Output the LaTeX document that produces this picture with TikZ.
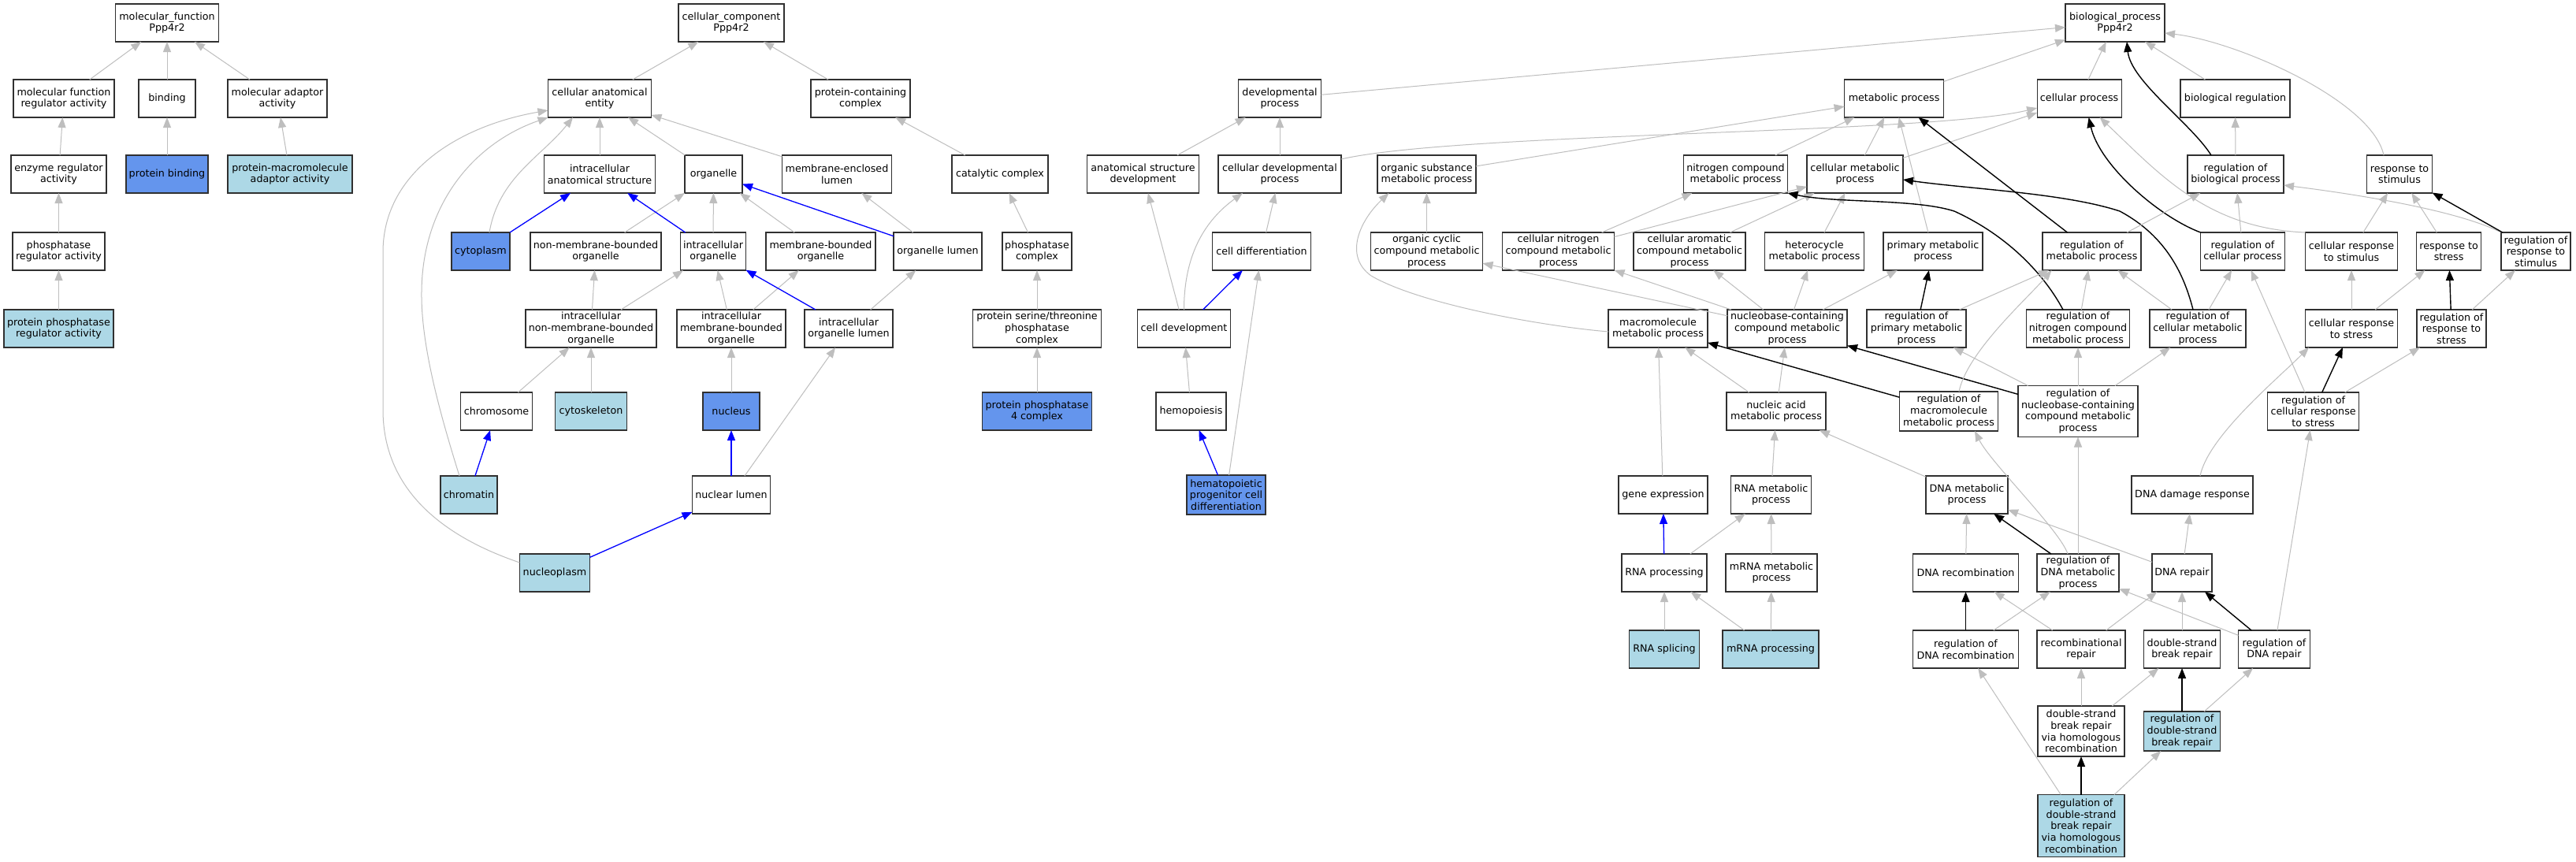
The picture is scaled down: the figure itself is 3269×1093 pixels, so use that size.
\documentclass[tikz,border=0pt]{standalone}
\usepackage{fontspec}
\setmainfont{DejaVu Sans}
\usetikzlibrary{arrows.meta}
\definecolor{cfblue}{HTML}{6495ED}
\definecolor{ltblue}{HTML}{ADD8E6}
\definecolor{edgegray}{HTML}{BEBEBE}
\definecolor{boxline}{HTML}{303030}
\tikzset{
  box/.style={draw=boxline, line width=1.2pt, fill=white, inner sep=0pt, outer sep=0pt, align=center,
    minimum height=48pt, font=\fontsize{12.7}{14.7}\selectfont},
  hit/.style={box, fill=cfblue},
  lit/.style={box, fill=ltblue},
  nw/.style={minimum width=#1pt},
  nh/.style={minimum height=#1pt},
  tipg/.style={-{Triangle[length=13pt,width=10pt]}},
  g/.style={draw=edgegray, line width=1pt, tipg},
  bk/.style={draw=black, line width=1.4pt, tipg},
  bl/.style={draw=blue, line width=1.3pt, tipg}
}
\begin{document}
\begin{tikzpicture}[x=1pt,y=-1pt]
\fill[white] (0,0) rectangle (3269,1093);
\useasboundingbox (0,0) rectangle (3269,1093);
% ---------------- molecular function
\node[box,nw=131] (mf) at (212,29) {molecular\_function\\Ppp4r2};
\node[box,nw=128] (mfra) at (81,125) {molecular function\\regulator activity};
\node[box,nw=72] (bind) at (212,125) {binding};
\node[box,nw=126] (mad) at (352,125) {molecular adaptor\\activity};
\node[box,nw=121] (era) at (74.5,221) {enzyme regulator\\activity};
\node[hit,nw=104] (pb) at (212,221) {protein binding};
\node[lit,nw=158] (pmaa) at (368,221) {protein-macromolecule\\adaptor activity};
\node[box,nw=117] (pra) at (74.5,319) {phosphatase\\regulator activity};
\node[lit,nw=139] (ppra) at (74.5,417) {protein phosphatase\\regulator activity};
% ---------------- cellular component
\node[box,nw=134] (cc) at (928,29) {cellular\_component\\Ppp4r2};
\node[box,nw=131] (cae) at (761,125) {cellular anatomical\\entity};
\node[box,nw=126] (pcc) at (1092,125) {protein-containing\\complex};
\node[box,nw=141] (ias) at (761,221) {intracellular\\anatomical structure};
\node[box,nw=73] (org) at (905.5,221) {organelle};
\node[box,nw=139] (mel) at (1062,221) {membrane-enclosed\\lumen};
\node[box,nw=122] (catc) at (1269,221) {catalytic complex};
\node[hit,nw=74] (cyto) at (610,319) {cytoplasm};
\node[box,nw=166] (nmbo) at (756,319) {non-membrane-bounded\\organelle};
\node[box,nw=83] (io) at (905,319) {intracellular\\organelle};
\node[box,nw=139] (mbo) at (1041.5,319) {membrane-bounded\\organelle};
\node[box,nw=112] (ol) at (1190,319) {organelle lumen};
\node[box,nw=88] (phc) at (1316,319) {phosphatase\\complex};
\node[box,nw=166] (inmbo) at (750,417) {intracellular\\non-membrane-bounded\\organelle};
\node[box,nw=138] (imbo) at (928,417) {intracellular\\membrane-bounded\\organelle};
\node[box,nw=112] (iol) at (1077,417) {intracellular\\organelle lumen};
\node[box,nw=163] (pstpc) at (1316,417) {protein serine/threonine\\phosphatase\\complex};
\node[box,nw=91] (chrom) at (630,522) {chromosome};
\node[lit,nw=91] (cytosk) at (750,522) {cytoskeleton};
\node[hit,nw=72] (nuc) at (928,522) {nucleus};
\node[hit,nw=139] (pp4c) at (1316,522) {protein phosphatase\\4 complex};
\node[lit,nw=72] (chromatin) at (595,628) {chromatin};
\node[box,nw=99] (nl) at (928,628) {nuclear lumen};
\node[lit,nw=89] (nucpl) at (704,727) {nucleoplasm};
% ---------------- biological process
\node[box,nw=126] (bp) at (2684,29) {biological\_process\\Ppp4r2};
\node[box,nw=105] (devp) at (1624,125) {developmental\\process};
\node[box,nw=126] (mp) at (2403.6,125) {metabolic process};
\node[box,nw=107] (cp) at (2638.6,125) {cellular process};
\node[box,nw=139] (breg) at (2836.5,125) {biological regulation};
\node[box,nw=142] (asd) at (1450.5,221) {anatomical structure\\development};
\node[box,nw=156] (cdp) at (1624,221) {cellular developmental\\process};
\node[box,nw=125] (osmp) at (1810.5,221) {organic substance\\metabolic process};
\node[box,nw=132] (ncmp) at (2202.5,221) {nitrogen compound\\metabolic process};
\node[box,nw=122] (cmp) at (2354,221) {cellular metabolic\\process};
\node[box,nw=122] (rbp) at (2837,221) {regulation of\\biological process};
\node[box,nw=83] (rts) at (3045,221) {response to\\stimulus};
\node[box,nw=125] (celldiff) at (1601,319) {cell differentiation};
\node[box,nw=142] (occmp) at (1810.5,319) {organic cyclic\\compound metabolic\\process};
\node[box,nw=142] (cncmp) at (1977.5,319) {cellular nitrogen\\compound metabolic\\process};
\node[box,nw=142] (cacmp) at (2144,319) {cellular aromatic\\compound metabolic\\process};
\node[box,nw=126] (hmp) at (2302.5,319) {heterocycle\\metabolic process};
\node[box,nw=126] (pmp) at (2453,319) {primary metabolic\\process};
\node[box,nw=125] (rmp) at (2654.5,319) {regulation of\\metabolic process};
\node[box,nw=107] (rcp) at (2846,319) {regulation of\\cellular process};
\node[box,nw=117] (crsti) at (2984,319) {cellular response\\to stimulus};
\node[box,nw=82] (rstress) at (3107.6,319) {response to\\stress};
\node[box,nw=88] (rrsti) at (3218,319) {regulation of\\response to\\stimulus};
\node[box,nw=118] (celldev) at (1502.5,417) {cell development};
\node[box,nw=126] (mmp) at (2104,417) {macromolecule\\metabolic process};
\node[box,nw=152] (nbcmp) at (2268,417) {nucleobase-containing\\compound metabolic\\process};
\node[box,nw=126] (rpmp) at (2432,417) {regulation of\\primary metabolic\\process};
\node[box,nw=131] (rncmp) at (2637,417) {regulation of\\nitrogen compound\\metabolic process};
\node[box,nw=122] (rcmp) at (2789,417) {regulation of\\cellular metabolic\\process};
\node[box,nw=117] (crstress) at (2984,417) {cellular response\\to stress};
\node[box,nw=88] (rrstress) at (3111,417) {regulation of\\response to\\stress};
\node[box,nw=89] (hemo) at (1511.5,522) {hemopoiesis};
\node[box,nw=126] (namp) at (2254,522) {nucleic acid\\metabolic process};
\node[box,nw=125,nh=50] (rmmp) at (2473,522) {regulation of\\macromolecule\\metabolic process};
\node[box,nw=152,nh=65] (rnbcmp) at (2637,522) {regulation of\\nucleobase-containing\\compound metabolic\\process};
\node[box,nw=116] (rcrs) at (2935.6,522) {regulation of\\cellular response\\to stress};
\node[hit,nw=100,nh=50] (hpcd) at (1556,628) {hematopoietic\\progenitor cell\\differentiation};
\node[box,nw=113] (geneexp) at (2110.5,628) {gene expression};
\node[box,nw=102] (rnamp) at (2247.5,628) {RNA metabolic\\process};
\node[box,nw=104] (dnamp) at (2496,628) {DNA metabolic\\process};
\node[box,nw=154] (ddr) at (2782,628) {DNA damage response};
\node[box,nw=108] (rnaproc) at (2112,727) {RNA processing};
\node[box,nw=116] (mrnamp) at (2248,727) {mRNA metabolic\\process};
\node[box,nw=134] (dnarec) at (2494.5,727) {DNA recombination};
\node[box,nw=104] (rdnamp) at (2637,727) {regulation of\\DNA metabolic\\process};
\node[box,nw=76] (dnarep) at (2769,727) {DNA repair};
\node[lit,nw=89] (rnasplice) at (2112,824) {RNA splicing};
\node[lit,nw=122] (mrnaproc) at (2247,824) {mRNA processing};
\node[box,nw=134] (regdnarec) at (2494.5,824) {regulation of\\DNA recombination};
\node[box,nw=112] (recrep) at (2641,824) {recombinational\\repair};
\node[box,nw=97] (dsbr) at (2769,824) {double-strand\\break repair};
\node[box,nw=91] (rdnarep) at (2886,824) {regulation of\\DNA repair};
\node[box,nw=110,nh=64] (dsbrhr) at (2641,928) {double-strand\\break repair\\via homologous\\recombination};
\node[lit,nw=97,nh=50] (rdsbr) at (2769,928) {regulation of\\double-strand\\break repair};
\node[lit,nw=110,nh=79] (rdsbrhr) at (2641,1048) {regulation of\\double-strand\\break repair\\via homologous\\recombination};
% waypoints
\coordinate (cw1) at (535,370);
\coordinate (nw1) at (486,520);
\coordinate (nw2) at (486,320);
\coordinate (mw1) at (1740,350);
\coordinate (rw1) at (2480,268);
\coordinate (rw2) at (2690,268);
% ---------------- edges MF
\draw[g] (mfra) -- (mf);
\draw[g] (bind) -- (mf);
\draw[g] (mad) -- (mf);
\draw[g] (era) -- (mfra);
\draw[g] (pb) -- (bind);
\draw[g] (pmaa) -- (mad);
\draw[g] (pra) -- (era);
\draw[g] (ppra) -- (pra);
% ---------------- edges CC
\draw[g] (cae) -- (cc);
\draw[g] (pcc) -- (cc);
\draw[g] (ias) -- (cae);
\draw[g] (org) -- (cae);
\draw[g] (mel) -- (cae);
\draw[g] ([xshift=11pt]cyto.north) .. controls +(12,-70) and +(-40,50) .. ([xshift=-34pt]cae.south);
\draw[g] ([xshift=-12pt]chromatin.north) .. controls +(-23,-74) and +(-1,70) .. (cw1) .. controls +(1,-110) and +(-95,33) .. (cae.south west);
\draw[g] ([yshift=13pt]nucpl.west) .. controls +(-100,-34) and +(0,100) .. (nw1) -- (nw2) .. controls +(0,-100) and +(-115,20) .. ([yshift=-15pt]cae.west);
\draw[bl] (cyto) -- (ias);
\draw[g] (nmbo) -- (org);
\draw[g] (io) -- (org);
\draw[bl] (io) -- (ias);
\draw[g] (mbo) -- (org);
\draw[bl] (ol) -- (org);
\draw[g] (ol) -- (mel);
\draw[g] (inmbo) -- (nmbo);
\draw[g] (inmbo) -- (io);
\draw[g] (imbo) -- (io);
\draw[g] (imbo) -- (mbo);
\draw[bl] (iol) -- (io);
\draw[g] (iol) -- (ol);
\draw[g] (chrom) -- (inmbo);
\draw[g] (cytosk) -- (inmbo);
\draw[g] (nuc) -- (imbo);
\draw[bl] (nl) -- (nuc);
\draw[g] (nl) -- (iol);
\draw[bl] (nucpl) -- (nl);
\draw[bl] (chromatin) -- (chrom);
\draw[g] (catc) -- (pcc);
\draw[g] (phc) -- (catc);
\draw[g] (pstpc) -- (phc);
\draw[g] (pp4c) -- (pstpc);
% ---------------- edges BP
\draw[g] (devp) -- (bp);
\draw[g] (mp) -- (bp);
\draw[g] (cp) -- (bp);
\draw[g] (breg) -- (bp);
\draw[bk] ([xshift=-31pt]rbp.north) .. controls +(-25,-40) and +(5,50) .. ([xshift=15pt]bp.south);
\draw[g] ([xshift=-20pt]rts.north) .. controls +(-15,-70) and +(90,10) .. ([yshift=-13pt]bp.east);
\draw[g] (asd) -- (devp);
\draw[g] (cdp) -- (devp);
\draw[g] ([yshift=-5pt]cdp.north east) .. controls +(148,-34) and +(-135,33) .. ([yshift=-12pt]cp.west);
\draw[g] (osmp) -- (mp);
\draw[g] (ncmp) -- (mp);
\draw[g] (cmp) -- (mp);
\draw[g] (cmp) -- (cp);
\draw[g] (pmp) -- (mp);
\draw[bk] (rmp) -- (mp);
\draw[bk] (rcp.north west) .. controls +(-53,-20) and +(14,61) .. ([xshift=12pt]cp.south);
\draw[g] (crsti.north west) .. controls +(-125,-5) and +(75,71) .. ([xshift=26pt]cp.south);
\draw[g] (rbp) -- (breg);
\draw[g] (celldiff) -- (cdp);
\draw[g] (celldev) -- (asd);
\draw[g] (celldev.north) .. controls +(0,-60) and +(-55,40) .. ([xshift=-47pt]cdp.south);
\draw[bl] (celldev) -- (celldiff);
\draw[g] (hemo) -- (celldev);
\draw[bl] (hpcd) -- (hemo);
\draw[g] (hpcd) -- (celldiff);
\draw[g] (occmp) -- (osmp);
\draw[g] ([yshift=-4pt]mmp.west) .. controls +(-91,-8) and +(60,35) .. (mw1) .. controls +(-35,-25) and +(-37,35) .. ([xshift=-48pt]osmp.south);
\draw[g] (cncmp) -- (ncmp);
\draw[g] (cncmp) -- (cmp);
\draw[g] (cacmp) -- (cmp);
\draw[g] (hmp) -- (cmp);
\draw[bk] ([xshift=-19pt]rncmp.north) .. controls +(-23,-43) and +(70,32) .. (rw1) .. controls +(-50,-16) and +(61,13) .. (ncmp.south east);
\draw[bk] ([xshift=-6pt]rcmp.north) .. controls +(-11,-43) and +(60,32) .. (rw2) .. controls +(-70,-23) and +(85,12) .. ([yshift=-7pt]cmp.east);
\draw[bk] (rpmp) -- (pmp);
\draw[g] (nbcmp) -- (pmp);
\draw[g] (nbcmp) -- (hmp);
\draw[g] (nbcmp) -- (cacmp);
\draw[g] (nbcmp) -- (cncmp);
\draw[g] (nbcmp) -- (occmp);
\draw[g] (namp) -- (mmp);
\draw[g] (namp) -- (nbcmp);
\draw[g] (geneexp) -- (mmp);
\draw[bk] (rmmp) -- (mmp);
\draw[bk] (rnbcmp) -- (nbcmp);
\draw[g] (rnbcmp) -- (rpmp);
\draw[g] (rnbcmp) -- (rncmp);
\draw[g] (rnbcmp) -- (rcmp);
\draw[g] ([xshift=13pt]rmmp.north) .. controls +(10,-50) and +(-30,35) .. ([xshift=-51pt]rmp.south);
\draw[g] (rpmp) -- (rmp);
\draw[g] (rncmp) -- (rmp);
\draw[g] (rcmp) -- (rmp);
\draw[g] (rcmp) -- (rcp);
\draw[g] (rmp) -- (rbp);
\draw[g] (rcp) -- (rbp);
\draw[g] (rrsti.north west) .. controls +(-60,-30) and +(80,10) .. ([yshift=-14pt]rbp.east);
\draw[g] (crsti) -- (rts);
\draw[g] (rstress) -- (rts);
\draw[bk] (rrsti) -- (rts);
\draw[g] (crstress) -- (crsti);
\draw[g] (crstress) -- (rstress);
\draw[bk] (rrstress) -- (rstress);
\draw[g] (rrstress) -- (rrsti);
\draw[g] (rcrs) -- (rcp);
\draw[bk] (rcrs) -- (crstress);
\draw[g] (rcrs) -- (rrstress);
\draw[g] ([xshift=10pt]ddr.north) .. controls +(10,-50) and +(-40,40) .. ([xshift=-54pt]crstress.south);
\draw[g] (dnamp) -- (namp);
\draw[g] (rnamp) -- (namp);
\draw[g] (dnarec) -- (dnamp);
\draw[bk] (rdnamp) -- (dnamp);
\draw[g] (dnarep) -- (dnamp);
\draw[g] (rdnamp) -- (rnbcmp);
\draw[g] ([xshift=-13pt]rdnamp.north) .. controls +(-10,-30) and +(20,40) .. ([xshift=33pt]rmmp.south);
\draw[g] (dnarep) -- (ddr);
\draw[bl] (rnaproc) -- (geneexp);
\draw[g] (rnaproc) -- (rnamp);
\draw[g] (mrnamp) -- (rnamp);
\draw[g] (rnasplice) -- (rnaproc);
\draw[g] (mrnaproc) -- (rnaproc);
\draw[g] (mrnaproc) -- (mrnamp);
\draw[bk] (regdnarec) -- (dnarec);
\draw[g] (regdnarec) -- (rdnamp);
\draw[g] (recrep) -- (dnarec);
\draw[g] (recrep) -- (dnarep);
\draw[g] (dsbr) -- (dnarep);
\draw[g] (rdnarep) -- (rdnamp);
\draw[bk] (rdnarep) -- (dnarep);
\draw[g] (rdnarep) -- (rcrs);
\draw[g] (dsbrhr) -- (recrep);
\draw[g] (dsbrhr) -- (dsbr);
\draw[bk] (rdsbr) -- (dsbr);
\draw[g] (rdsbr) -- (rdnarep);
\draw[g] (rdsbrhr) -- (regdnarec);
\draw[bk] (rdsbrhr) -- (dsbrhr);
\draw[g] (rdsbrhr) -- (rdsbr);
\end{tikzpicture}
\end{document}
